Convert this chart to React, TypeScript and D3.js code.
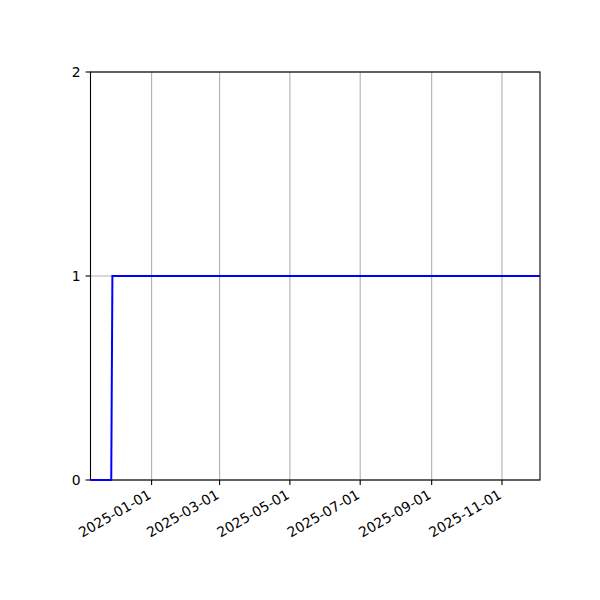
import * as React from "react"
import * as d3 from "d3"

// step series: one point per date
const dates = ["2024-11-09", "2024-11-27", "2024-11-28", "2025-12-04"]
const values = [0, 0, 1, 1]
const xTickDates = ["2025-01-01", "2025-03-01", "2025-05-01", "2025-07-01", "2025-09-01", "2025-11-01"]
const yTicks = [0, 1, 2]

const W = 600
const H = 600
const M = { left: 90.5, right: 540, top: 72, bottom: 480 }
const FONT = "DejaVu Sans, sans-serif"

export default function App() {
    const svgRef = React.useRef<SVGSVGElement>(null)

    React.useEffect(() => {
        if (!svgRef.current) return
        const svg = d3.select(svgRef.current)
        svg.selectAll("*").remove()

        const parse = d3.utcParse("%Y-%m-%d")
        const data = dates.map((d, i) => ({ date: parse(d) as Date, value: values[i] }))
        const ticks = xTickDates.map(d => parse(d) as Date)

        const x = d3.scaleUtc()
            .domain(d3.extent(data, d => d.date) as [Date, Date])
            .range([M.left, M.right])
        const y = d3.scaleLinear().domain([0, 2]).range([M.bottom, M.top])

        svg.append("rect").attr("width", W).attr("height", H).attr("fill", "#fff")

        svg.append("defs").append("clipPath").attr("id", "clip")
            .append("rect").attr("x", M.left).attr("y", M.top - 2)
            .attr("width", M.right - M.left).attr("height", M.bottom - M.top + 4)

        // grid
        const grid = svg.append("g").attr("stroke", "#b0b0b0").attr("stroke-width", 1.1)
        grid.selectAll("line.vx").data(ticks).join("line")
            .attr("x1", d => x(d)).attr("x2", d => x(d))
            .attr("y1", M.top).attr("y2", M.bottom)
        grid.selectAll("line.hy").data(yTicks).join("line")
            .attr("x1", M.left).attr("x2", M.right)
            .attr("y1", d => y(d)).attr("y2", d => y(d))

        // spines
        svg.append("rect")
            .attr("x", M.left).attr("y", M.top)
            .attr("width", M.right - M.left).attr("height", M.bottom - M.top)
            .attr("fill", "none").attr("stroke", "#000").attr("stroke-width", 1.1)

        // line
        const line = d3.line<{ date: Date; value: number }>()
            .x(d => x(d.date))
            .y(d => y(d.value))
        svg.append("path")
            .datum(data)
            .attr("d", line)
            .attr("fill", "none")
            .attr("stroke", "#0000ff")
            .attr("stroke-width", 2)
            .attr("stroke-linecap", "square")
            .attr("clip-path", "url(#clip)")

        // x ticks
        const xt = svg.append("g")
        xt.selectAll("line").data(ticks).join("line")
            .attr("x1", d => x(d)).attr("x2", d => x(d))
            .attr("y1", M.bottom).attr("y2", M.bottom + 4.9)
            .attr("stroke", "#000").attr("stroke-width", 1.1)
        xt.selectAll("text").data(ticks).join("text")
            .attr("transform", d => `translate(${x(d) + 0.5},${M.bottom + 17.5})rotate(-30)`)
            .attr("text-anchor", "end")
            .attr("font-family", FONT)
            .attr("font-size", 13.9)
            .attr("fill", "#000")
            .text(d => d3.utcFormat("%Y-%m-%d")(d))

        // y ticks
        const yt = svg.append("g")
        yt.selectAll("line").data(yTicks).join("line")
            .attr("x1", M.left - 4.9).attr("x2", M.left)
            .attr("y1", d => y(d)).attr("y2", d => y(d))
            .attr("stroke", "#000").attr("stroke-width", 1.1)
        yt.selectAll("text").data(yTicks).join("text")
            .attr("x", M.left - 9.8)
            .attr("y", d => y(d))
            .attr("dy", "0.36em")
            .attr("text-anchor", "end")
            .attr("font-family", FONT)
            .attr("font-size", 13.9)
            .attr("fill", "#000")
            .text(d => String(d))
    }, [])

    return (
        <svg
            ref={svgRef}
            width={W}
            height={H}
            viewBox={`0 0 ${W} ${H}`}
            style={{ position: "absolute", left: 0, top: 0, display: "block" }}
        />
    )
}
